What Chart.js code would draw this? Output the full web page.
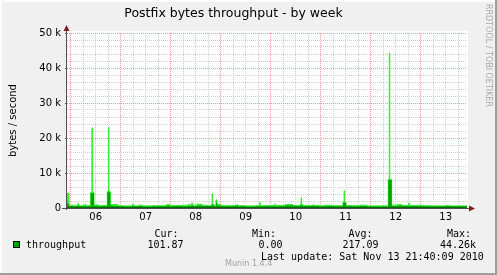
<!DOCTYPE html>
<html>
<head>
<meta charset="utf-8">
<title>Postfix bytes throughput - by week</title>
<script src="https://cdn.jsdelivr.net/npm/chart.js@4.4.1/dist/chart.umd.min.js"></script>
<style>
  html, body { margin: 0; padding: 0; background: #f0f0f0; }
  #wrap { position: relative; width: 497px; height: 275px; overflow: hidden; }
  #chart { position: absolute; left: 0; top: 0; }
  .t { position: absolute; font: 10px 'DejaVu Sans Mono', monospace; line-height: 12px; color: #000; white-space: pre; }
  .swatch { position: absolute; left: 13px; top: 241px; width: 5px; height: 5px; background: #00a000; border: 1px solid #000; }
  #munin { position: absolute; left: 225px; top: 259px; font: 8px 'DejaVu Sans', sans-serif; line-height: 10px; color: #a0a0a0; white-space: pre; }
  #rrd { position: absolute; left: 483px; top: 4px; writing-mode: vertical-rl; font: 8px 'DejaVu Sans', sans-serif; line-height: 10px; color: #a8a8a8; white-space: nowrap; }
</style>
</head>
<body>
<div id="wrap">
  <canvas id="chart" width="497" height="275"></canvas>
  <div id="munin">Munin 1.4.4</div>
  <div id="rrd">RRDTOOL / TOBI OETIKER</div>
  <div class="swatch"></div>
  <div class="t" style="left:154.5px; top:228px">Cur:</div>
  <div class="t" style="left:252px; top:228px">Min:</div>
  <div class="t" style="left:348.5px; top:228px">Avg:</div>
  <div class="t" style="left:447px; top:228px">Max:</div>
  <div class="t" style="left:26px; top:239px">throughput</div>
  <div class="t" style="left:147.5px; top:239px">101.87</div>
  <div class="t" style="left:258.5px; top:239px">0.00</div>
  <div class="t" style="left:342.5px; top:239px">217.09</div>
  <div class="t" style="left:440px; top:239px">44.26k</div>
  <div class="t" style="left:261px; top:251px">Last update: Sat Nov 13 21:40:09 2010</div>
</div>
<script>
// ─── Data (time = day of November, values in bytes/s) ───────────────────────
// each value holds from its time until the next one

const times = [
  5.926, 5.966, 6.05, 6.14, 6.165, 6.26, 6.31, 6.40, 6.424, 6.434,
  6.466, 6.55, 6.65, 6.732, 6.754, 6.764, 6.792, 6.84, 6.94, 7.05,
  7.236, 7.26, 7.36, 7.44, 7.62, 7.92, 7.98, 8.10, 8.24, 8.34,
  8.42, 8.44, 8.526, 8.626, 8.70, 8.82, 8.828, 8.838, 8.86, 8.906,
  8.926, 8.99, 9.05, 9.286, 9.346, 9.50, 9.70, 9.78, 9.795, 9.90,
  10.08, 10.10, 10.286, 10.446, 10.59, 10.608, 10.618, 10.64, 10.84, 10.86,
  10.94, 10.96, 11.086, 11.226, 11.446, 11.468, 11.478, 11.506, 11.62, 11.786,
  11.926, 12.352, 12.372, 12.382, 12.42, 12.526, 12.626, 12.76, 12.78, 12.926,
  13.046, 13.20, 13.52, 13.56, 13.926,
];

const avgValues = [
  1300, 600, 500, 650, 500, 600, 500, 4200, 4200, 4200,
  600, 500, 550, 4500, 4500, 4500, 700, 600, 500, 450,
  650, 500, 550, 450, 500, 650, 500, 550, 500, 600,
  800, 600, 750, 600, 550, 900, 900, 900, 600, 1500,
  700, 600, 500, 650, 500, 450, 500, 600, 500, 500,
  600, 500, 700, 550, 800, 800, 800, 550, 650, 550,
  600, 500, 600, 500, 1500, 1500, 1500, 550, 500, 600,
  450, 8000, 8000, 8000, 600, 650, 550, 600, 550, 600,
  500, 500, 550, 500, 500,
];

const maxValues = [
  4200, 800, 650, 1200, 650, 900, 650, 4400, 22900, 4400,
  900, 700, 750, 4700, 23000, 4700, 1000, 1000, 650, 600,
  1100, 600, 800, 600, 650, 1000, 700, 700, 800, 900,
  1400, 800, 1100, 800, 700, 1100, 4100, 1100, 800, 2300,
  1000, 800, 650, 850, 650, 600, 650, 1500, 650, 700,
  1100, 700, 1000, 700, 1100, 2900, 1100, 700, 900, 700,
  850, 650, 800, 650, 1700, 4900, 1700, 700, 650, 800,
  600, 8200, 44260, 8200, 800, 1000, 700, 1400, 700, 800,
  650, 600, 750, 600, 600,
];

const minLevel = 0;

const days = [6, 7, 8, 9, 10, 11, 12, 13];
const dayLabels = ['06', '07', '08', '09', '10', '11', '12', '13'];

const yMax = 50000;
const yStep = 2000;
const yMajor = 10000;

// ─── Styles ──────────────────────────────────────────────────────────────────

const GRID_MINOR = '#cfcfcf';
const GRID_MAJOR = '#f29a9a';
const AXIS = '#505050';
const ARROW = '#7f1f1f';

Chart.defaults.font.family = "'DejaVu Sans', sans-serif";
Chart.defaults.color = '#000';

const toPoints = (vals) => times.map((t, i) => ({ x: t, y: vals[i] }));

const frame = {
  id: 'frame',
  beforeDraw(chart) {
    const { ctx, width, height, chartArea: a } = chart;
    ctx.save();
    ctx.fillStyle = '#f0f0f0';
    ctx.fillRect(0, 0, width, height);
    ctx.fillStyle = '#fbfbfb';
    ctx.fillRect(0, 0, width, 2);
    ctx.fillRect(0, 0, 2, height);
    ctx.fillStyle = '#9e9e9e';
    ctx.fillRect(0, height - 2, width, 2);
    ctx.fillRect(width - 2, 0, 2, height);
    ctx.fillStyle = '#ffffff';
    ctx.fillRect(a.left, a.top - 2, a.right - a.left + 1, a.bottom - a.top + 2);
    ctx.restore();
  },
  beforeDatasetsDraw(chart) {
    const { ctx, chartArea: a } = chart;
    ctx.save();
    ctx.strokeStyle = AXIS;
    ctx.lineWidth = 1;
    ctx.beginPath();
    ctx.moveTo(a.left - 0.5, a.bottom + 2);
    ctx.lineTo(a.left - 0.5, a.top - 4);
    ctx.moveTo(a.left - 5, a.bottom + 0.5);
    ctx.lineTo(a.right + 3, a.bottom + 0.5);
    ctx.stroke();
    ctx.restore();
  },
  afterDatasetsDraw(chart) {
    const { ctx, chartArea: a } = chart;
    ctx.save();
    ctx.fillStyle = ARROW;
    ctx.beginPath();
    ctx.moveTo(a.left - 0.5, a.top - 8);
    ctx.lineTo(a.left - 3.5, a.top - 2);
    ctx.lineTo(a.left + 2.5, a.top - 2);
    ctx.closePath();
    ctx.fill();
    ctx.beginPath();
    ctx.moveTo(a.right + 8, a.bottom + 0.5);
    ctx.lineTo(a.right + 2, a.bottom - 2.5);
    ctx.lineTo(a.right + 2, a.bottom + 3.5);
    ctx.closePath();
    ctx.fill();
    ctx.restore();
  },
};

new Chart(document.getElementById('chart'), {
  type: 'line',
  data: {
    datasets: [
      {
        label: 'max',
        data: toPoints(maxValues),
        stepped: true,
        fill: 'origin',
        backgroundColor: '#33ee33',
        borderColor: '#33ee33',
        borderWidth: 1,
        pointRadius: 0,
        order: 3,
      },
      {
        label: 'throughput',
        data: toPoints(avgValues),
        stepped: true,
        fill: 'origin',
        backgroundColor: '#00a000',
        borderWidth: 0,
        pointRadius: 0,
        order: 2,
      },
      {
        label: 'min',
        data: [{ x: times[0], y: minLevel }, { x: times[times.length - 1], y: minLevel }],
        borderColor: '#006a00',
        borderWidth: 2,
        pointRadius: 0,
        fill: false,
        order: 1,
      },
    ],
  },
  options: {
    responsive: false,
    animation: false,
    devicePixelRatio: 1,
    layout: { padding: { left: 0, right: 30, top: 0, bottom: 0 } },
    plugins: {
      legend: { display: false },
      tooltip: { enabled: false },
      title: {
        display: true,
        text: 'Postfix bytes throughput - by week',
        color: '#000',
        font: { size: 12.5, weight: 'normal' },
        padding: { top: 6, bottom: 12 },
      },
    },
    scales: {
      x: {
        type: 'linear',
        min: times[0],
        max: times[times.length - 1],
        afterBuildTicks: (scale) => {
          const ticks = [];
          for (let q = Math.ceil(scale.min * 4); q <= Math.floor(scale.max * 4); q++) {
            ticks.push({ value: q / 4 });
          }
          scale.ticks = ticks;
        },
        afterFit: (scale) => { scale.height = 67; },
        grid: {
          drawTicks: false,
          color: (ctx) => (Number.isInteger(ctx.tick.value) ? GRID_MAJOR : GRID_MINOR),
        },
        border: { display: false, dash: [1, 1] },
        ticks: {
          autoSkip: false,
          maxRotation: 0,
          padding: 3,
          font: { size: 10 },
          callback: (v) => {
            if (Math.abs(v - Math.floor(v) - 0.5) > 1e-6) return '';
            const i = days.indexOf(Math.floor(v));
            return i < 0 ? '' : dayLabels[i];
          },
        },
      },
      y: {
        type: 'linear',
        min: 0,
        max: yMax,
        afterFit: (scale) => { scale.width = 67; },
        title: {
          display: true,
          text: 'bytes / second',
          color: '#000',
          font: { size: 10 },
          padding: { top: 7, bottom: 0 },
        },
        grid: {
          tickLength: 2,
          color: (ctx) => (ctx.tick.value % yMajor === 0 ? GRID_MAJOR : GRID_MINOR),
          tickColor: (ctx) => (ctx.tick.value % yMajor === 0 ? AXIS : 'rgba(0,0,0,0)'),
        },
        border: { display: false, dash: [1, 1] },
        ticks: {
          stepSize: yStep,
          autoSkip: false,
          padding: 4,
          font: { size: 10 },
          callback: (v) => {
            if (v % yMajor !== 0) return '';
            return v === 0 ? '0' : v / 1000 + ' k';
          },
        },
      },
    },
  },
  plugins: [frame],
});
</script>
</body>
</html>
